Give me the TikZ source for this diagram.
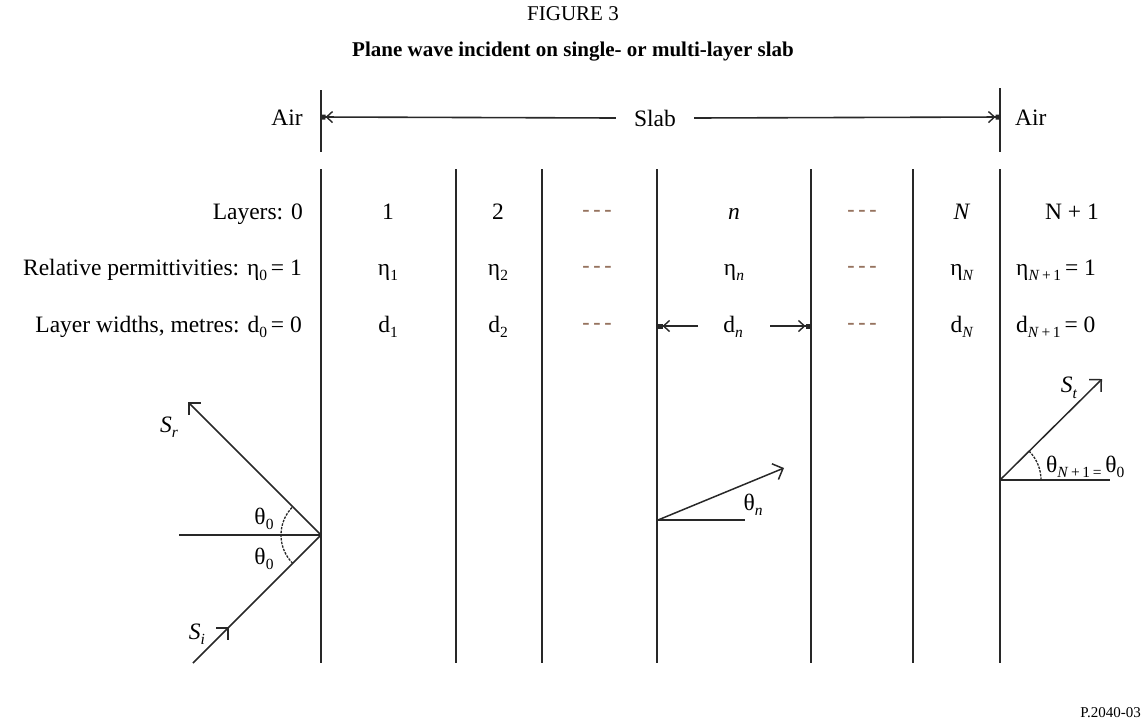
\documentclass[tikz,border=0pt]{standalone}
\usepackage{fontspec}
\setmainfont{Liberation Serif}
\usetikzlibrary{arrows.meta,decorations.markings}
\definecolor{ink}{RGB}{40,40,40}
\definecolor{dashc}{RGB}{150,115,95}
\newcommand\lsub[1]{\raisebox{-5.5pt}{\fontsize{15.5}{16}\selectfont #1}}
\tikzset{
  rule/.style={draw=ink,line width=1.7pt},
  lbl/.style={font=\fontsize{23.5}{27}\selectfont,inner sep=0pt,anchor=base},
  lble/.style={lbl,anchor=base east},
  lblw/.style={lbl,anchor=base west},
  small/.style={font=\fontsize{15}{18}\selectfont,inner sep=0pt},
  head/.style={font=\fontsize{21}{25}\selectfont,inner sep=0pt},
  dimarrow/.style={draw=ink,line width=1.6pt,-{Straight Barb[length=6pt,width=11pt,line width=1.4pt] Square[length=4.5pt,width=5pt]}},
  vec/.style={draw=ink,line width=1.5pt,-{Straight Barb[length=8.5pt,width=17pt,line width=1.5pt]}},
  angarc/.style={draw=ink,line width=1.3pt,dash pattern=on 2.5pt off 1.2pt},
  dots/.style={lbl,text=dashc,font=\fontsize{22}{26}\selectfont\bfseries},
}
\begin{document}
\begin{tikzpicture}[x=1pt,y=-1pt]
\useasboundingbox (0,0) rectangle (1146,724);

% headings
\node[head] (fig) at (573,14) {FIGURE 3};
\node[head,font=\fontsize{21}{25}\selectfont\bfseries] (title) at (573,52) {Plane wave incident on single- or multi-layer slab};
\node[small,anchor=base east] (ref) at (1141,717) {P.2040-03};

% top boundary lines
\coordinate (ta) at (321,90);  \coordinate (tb) at (321,152);
\coordinate (tc) at (1000,88); \coordinate (td) at (1000,152);
\draw[rule] (ta) -- (tb);
\draw[rule] (tc) -- (td);
\coordinate (sl) at (321,117);
\coordinate (sr) at (1000,117);
\node[lble] (airl) at (303,125) {Air};
\node[lblw] (airr) at (1015,125) {Air};
\node[lbl,anchor=center,inner xsep=18pt] (slab) at (655,118) {Slab};
\draw[dimarrow] (slab.west) -- (sl);
\draw[dimarrow] (slab.east) -- (sr);

% layer boundaries
\foreach \x [count=\i] in {321,456,542,657,811,913,1000}{
  \coordinate (up\i) at (\x,169);
  \coordinate (dn\i) at (\x,663);
  \draw[rule] (up\i) -- (dn\i);
}

% row: layers
\node[lble] (lay) at (303,219) {Layers: 0};
\node[lbl] (l1) at (388,219) {1};
\node[lbl] (l2) at (498,219) {2};
\node[dots] (l3) at (597,216) {-\,-\,-};
\node[lbl] (ln) at (734,219) {\textit{n}};
\node[dots] (l5) at (862,216) {-\,-\,-};
\node[lbl] (lN) at (962,219) {\textit{N}};
\node[lbl] (lN1) at (1072,219) {N + 1};

% row: permittivities
\node[lble] (perm) at (302,275) {Relative permittivities: η\lsub{0}\,= 1};
\node[lbl] (e1) at (388,275) {η\lsub{1}};
\node[lbl] (e2) at (498,275) {η\lsub{2}};
\node[dots] (e3) at (597,272) {-\,-\,-};
\node[lbl] (en) at (734,275) {η\lsub{\textit{n}}};
\node[dots] (e5) at (862,272) {-\,-\,-};
\node[lbl] (eN) at (962,275) {η\lsub{\textit{N}}};
\node[lblw] (eN1) at (1016,275) {η\lsub{\textit{N}\,+\,1}\,= 1};

% row: widths
\node[lble] (wid) at (302,332) {Layer widths, metres: d\lsub{0}\,= 0};
\node[lbl] (d1) at (388,332) {d\lsub{1}};
\node[lbl] (d2) at (498,332) {d\lsub{2}};
\node[dots] (d3) at (597,329) {-\,-\,-};
\node[lbl] (dn) at (733,332) {d\lsub{\textit{n}}};
\node[dots] (d5) at (862,329) {-\,-\,-};
\node[lbl] (dN) at (962,332) {d\lsub{\textit{N}}};
\node[lblw] (dN1) at (1016,332) {d\lsub{\textit{N}\,+\,1}\,= 0};
\coordinate (dnl) at (698,326);
\coordinate (dnr) at (770,326);
\coordinate (wl) at (658,326);
\coordinate (wr) at (810,326);
\draw[dimarrow] (dnl) -- (wl);
\draw[dimarrow] (dnr) -- (wr);

% reflection at first interface
\coordinate (v0) at (321,535);
\coordinate (h0) at (179,535);
\coordinate (si) at (193,663);
\coordinate (srt) at (188,402);
\draw[rule,line width=1.5pt] (h0) -- (v0);
\draw[rule,line width=1.5pt,postaction={decorate},
  decoration={markings,mark=at position 0.28 with {\arrow{Straight Barb[length=8.5pt,width=17pt,line width=1.5pt]}}}]
  (si) -- (v0);
\draw[vec] (v0) -- (srt);
\draw[angarc] ([shift={(135:40)}]v0) arc[start angle=135,end angle=225,radius=40];
\node[lbl,anchor=center] (Sr) at (169,427) {\textit{S}\lsub{\textit{r}}};
\node[lbl,anchor=center] (Si) at (197,634) {\textit{S}\lsub{\textit{i}}};
\node[lbl,anchor=center] (th1) at (264,519) {θ\lsub{0}};
\node[lbl,anchor=center] (th2) at (264,559) {θ\lsub{0}};

% refraction in layer n
\coordinate (v2) at (658,520);
\coordinate (h2) at (745,520);
\coordinate (tn) at (784,468);
\draw[rule,line width=1.5pt] (v2) -- (h2);
\draw[vec] (v2) -- (tn);
\node[lbl,anchor=center] (thn) at (753,505) {θ\lsub{\textit{n}}};

% transmitted wave
\coordinate (v1) at (1000,480);
\coordinate (h1) at (1110,480);
\coordinate (st) at (1102,379);
\draw[rule,line width=1.5pt] (v1) -- (h1);
\draw[vec] (v1) -- (st);
\draw[angarc] ([shift={(0:41)}]v1) arc[start angle=0,end angle=-45,radius=41];
\node[lbl,anchor=center] (St) at (1069,388) {\textit{S}\lsub{\textit{t}}};
\node[lblw] (thN) at (1046,472) {θ\lsub{\textit{N}\,+\,1\,=}\,θ\lsub{0}};
\end{tikzpicture}
\end{document}
